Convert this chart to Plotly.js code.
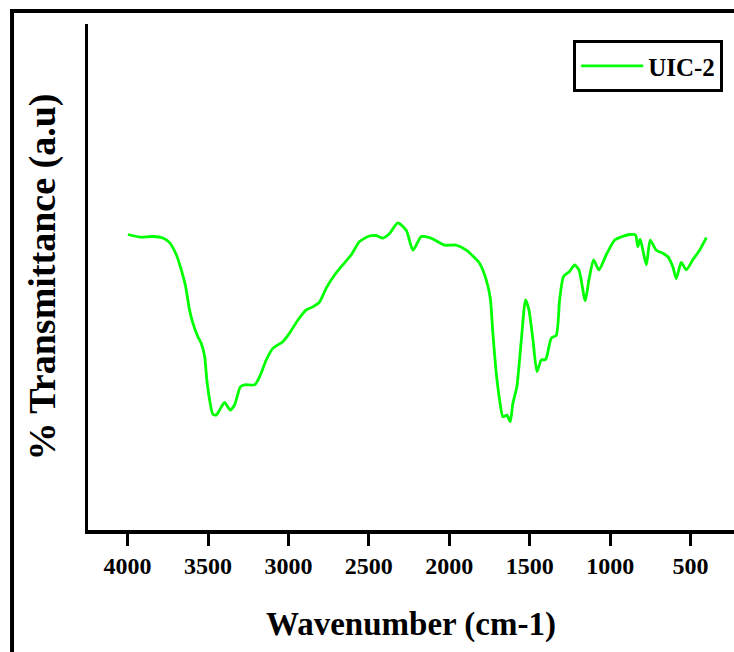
<!DOCTYPE html>
<html>
<head>
<meta charset="utf-8">
<script src="https://cdn.plot.ly/plotly-3.0.1.min.js"></script>
<style>
  html, body { margin: 0; padding: 0; background: #ffffff; }
  #chart { width: 734px; height: 652px; }
</style>
</head>
<body>
<div id="chart"></div>
<script>
// FTIR spectrum of UIC-2: wavenumber (cm-1) and % transmittance (a.u.)
const seriesName = "UIC-2";

const wavenumber = [
  3998, 3925, 3843, 3781, 3739, 3697, 3666, 3639, 3615, 3594,
  3563, 3542, 3521, 3507, 3490, 3470, 3449, 3428, 3397, 3362,
  3335, 3299, 3273, 3210, 3179, 3138, 3097, 3035, 2993, 2941,
  2889, 2848, 2806, 2765, 2713, 2662, 2609, 2558, 2496, 2454,
  2413, 2371, 2320, 2267, 2226, 2174, 2123, 2102, 2029, 1957,
  1894, 1812, 1770, 1745, 1729, 1708, 1687, 1667, 1642, 1621,
  1605, 1580, 1552, 1526, 1505, 1480, 1455, 1428, 1401, 1366,
  1335, 1314, 1290, 1252, 1221, 1194, 1155, 1132, 1103, 1070,
  1024, 972, 941, 879, 842, 828, 813, 775, 751, 713,
  672, 641, 610, 589, 558, 527, 486, 444, 402
];

const transmittance = [
  58.4, 57.9, 58.0, 57.7, 56.8, 54.4, 51.4, 48.1, 43.5, 40.9,
  38.2, 36.9, 34.3, 29.6, 25.7, 22.9, 22.7, 23.7, 25.2, 23.7,
  24.7, 28.3, 28.7, 28.7, 30.3, 33.6, 35.9, 37.2, 38.9, 41.5,
  43.5, 44.1, 45.1, 47.8, 50.4, 52.4, 54.4, 57.0, 58.1, 58.2,
  57.7, 58.6, 60.7, 59.2, 55.3, 58.0, 57.8, 57.5, 56.3, 56.3,
  55.3, 52.7, 49.4, 45.8, 38.9, 31.0, 25.7, 22.4, 22.7, 21.4,
  25.0, 28.3, 37.6, 45.5, 43.5, 37.6, 31.3, 33.6, 33.7, 37.9,
  38.5, 45.5, 50.1, 51.1, 52.4, 51.4, 45.3, 49.4, 53.4, 51.4,
  54.4, 57.3, 57.8, 58.4, 58.3, 56.0, 57.5, 52.4, 57.3, 55.3,
  54.7, 54.0, 52.0, 49.7, 52.9, 51.4, 53.4, 55.3, 57.8
];

const xTickValues = [4000, 3500, 3000, 2500, 2000, 1500, 1000, 500];
const xTickLabels = ["4000", "3500", "3000", "2500", "2000", "1500", "1000", "500"];

const serif = "Liberation Serif, Times New Roman, serif";

const trace = {
  x: wavenumber,
  y: transmittance,
  type: "scatter",
  mode: "lines",
  name: seriesName,
  line: { color: "#00ff00", width: 2.8, shape: "spline", smoothing: 0.6 }
};

const layout = {
  width: 734,
  height: 652,
  margin: { l: 88, r: 0, t: 24, b: 122 },
  paper_bgcolor: "#ffffff",
  plot_bgcolor: "#ffffff",
  showlegend: true,
  legend: {
    x: 0.751, y: 0.968, xanchor: "left", yanchor: "top",
    bgcolor: "#ffffff",
    bordercolor: "#000000",
    borderwidth: 3,
    itemwidth: 62,
    font: { family: serif, size: 25, color: "#000000", weight: "bold" }
  },
  xaxis: {
    range: [4246, 230],
    tickmode: "array",
    tickvals: xTickValues,
    ticktext: xTickLabels,
    ticks: "outside",
    ticklen: 12,
    tickwidth: 3,
    tickcolor: "#000000",
    showline: true,
    linecolor: "#000000",
    linewidth: 3.5,
    mirror: false,
    showgrid: false,
    zeroline: false,
    tickfont: { family: serif, size: 24, color: "#000000", weight: "bold" },
    title: {
      text: "Wavenumber (cm-1)",
      font: { family: serif, size: 33, color: "#000000", weight: "bold" },
      standoff: 34
    }
  },
  yaxis: {
    range: [0, 100],
    showticklabels: false,
    ticks: "",
    showline: true,
    linecolor: "#000000",
    linewidth: 3.5,
    mirror: false,
    showgrid: false,
    zeroline: false,
    title: {
      text: "% Transmittance (a.u)",
      font: { family: serif, size: 38, color: "#000000", weight: "bold" },
      standoff: 18
    }
  },
  shapes: [
    {
      // outer frame around the figure (left and top edges)
      type: "path",
      xref: "paper", yref: "paper",
      path: "M -0.1176,-0.4 L -0.1176,1.0257 L 1.3,1.0257",
      line: { color: "#000000", width: 4 },
      layer: "above"
    }
  ]
};

Plotly.newPlot("chart", [trace], layout, { displayModeBar: false, staticPlot: true });
</script>
</body>
</html>
